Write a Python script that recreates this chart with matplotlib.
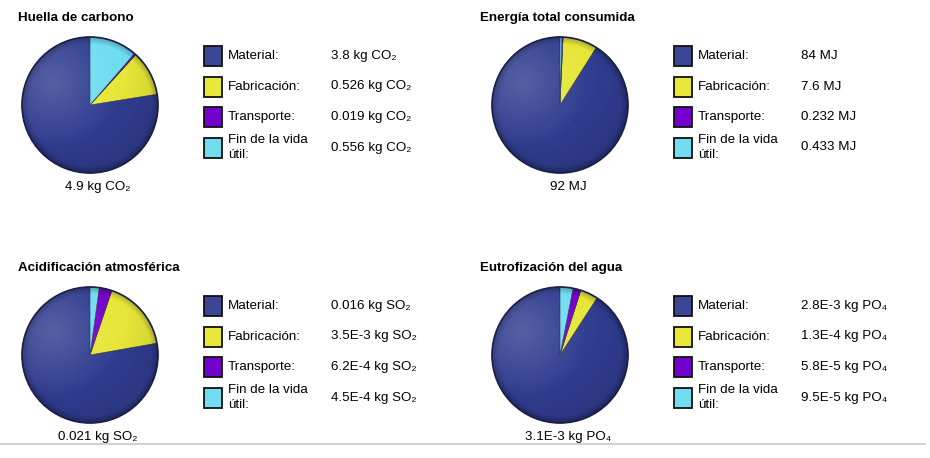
import numpy as np
import matplotlib.pyplot as plt
from matplotlib.patches import Circle, Rectangle

plt.rcParams['font.family'] = ['Liberation Sans', 'DejaVu Sans']

categories = ["Material:", "Fabricación:", "Transporte:", "Fin de la vida\nútil:"]
colors = ["#303d90", "#e6e638", "#7300cc", "#6fdcf2"]
swatch_colors = ["#3b4794", "#e8e83c", "#7300cc", "#72dcf0"]

titles = ["Huella de carbono", "Energía total consumida",
          "Acidificación atmosférica", "Eutrofización del agua"]
carbon = [3.8, 0.526, 0.019, 0.556]
energy = [84, 7.6, 0.232, 0.433]
acid = [0.016, 3.5e-3, 6.2e-4, 4.5e-4]
eutro = [2.8e-3, 1.3e-4, 5.8e-5, 9.5e-5]
value_labels = [
    ["3.8 kg CO₂", "0.526 kg CO₂", "0.019 kg CO₂", "0.556 kg CO₂"],
    ["84 MJ", "7.6 MJ", "0.232 MJ", "0.433 MJ"],
    ["0.016 kg SO₂", "3.5E-3 kg SO₂", "6.2E-4 kg SO₂", "4.5E-4 kg SO₂"],
    ["2.8E-3 kg PO₄", "1.3E-4 kg PO₄", "5.8E-5 kg PO₄", "9.5E-5 kg PO₄"],
]
totals = ["4.9 kg CO₂", "92 MJ", "0.021 kg SO₂", "3.1E-3 kg PO₄"]
series = [carbon, energy, acid, eutro]

W, H = 930, 458
fig = plt.figure(figsize=(9.3, 4.58), dpi=100)
ax = fig.add_axes([0, 0, 1, 1])

# panel origins (x, y) in pixels, y grows downwards
origins = [(0, 0), (470, 0), (0, 250), (470, 250)]
title_x = [18, 480, 18, 480]
R = 68
FS = 9.6

# shading overlay for the glossy pie look
n = 200
yy, xx = np.mgrid[-1:1:n * 1j, -1:1:n * 1j]
rim = np.hypot(xx, yy)
dist = np.hypot(xx + 0.4, yy + 0.5)
shade = np.zeros((n, n, 4))
shade[..., 3] = np.clip((dist - 0.9) * 0.16, 0, 0.2)
shade[..., 3] += np.clip((rim - 0.9) * 2.5, 0, 0.25)
hi = np.ones((n, n, 4))
hi[..., 3] = np.clip(1 - np.hypot(xx + 0.55, yy + 0.35) / 1.0, 0, 1) * 0.18

for i, (ox, oy) in enumerate(origins):
    cx, cy = ox + 90, oy + 105
    # y axis is inverted, so angles are mirrored: start at top, go anticlockwise on screen
    ax.pie(series[i], colors=colors, center=(cx, cy), radius=R,
           startangle=-90, counterclock=False,
           wedgeprops=dict(linewidth=0.4, edgecolor="#2a2a40"), frame=True)
    ext = (cx - R, cx + R, cy + R, cy - R)
    im = ax.imshow(shade, extent=ext, zorder=3, interpolation="bilinear")
    im.set_clip_path(Circle((cx, cy), R, transform=ax.transData))
    im2 = ax.imshow(hi, extent=ext, zorder=3, interpolation="bilinear")
    im2.set_clip_path(Circle((cx, cy), R, transform=ax.transData))
    ax.add_patch(Circle((cx, cy), R, fill=False, edgecolor="#1a1f4a",
                        linewidth=1.2, zorder=4))

    ax.text(title_x[i], oy + 18, titles[i], fontsize=FS, fontweight="bold",
            va="center", ha="left")
    ax.text(cx + 8, oy + 187, totals[i], fontsize=FS, va="center", ha="center")

    for j in range(4):
        ry = oy + 56 + j * 30.5
        ax.add_patch(Rectangle((ox + 204, ry - 10), 18, 20,
                               facecolor=swatch_colors[j],
                               edgecolor="#111111", linewidth=1.3, zorder=2))
        ax.text(ox + 228, ry, categories[j], fontsize=FS, va="center",
                ha="left", linespacing=1.35)
        ax.text(ox + 331, ry, value_labels[i][j], fontsize=FS, va="center",
                ha="left")

ax.plot([0, 925], [444, 444], color="#c8c8c8", linewidth=1.2)

ax.set_xlim(0, W)
ax.set_ylim(H, 0)
ax.set_aspect("equal")
ax.axis("off")

fig.savefig("out.png", dpi=100)
